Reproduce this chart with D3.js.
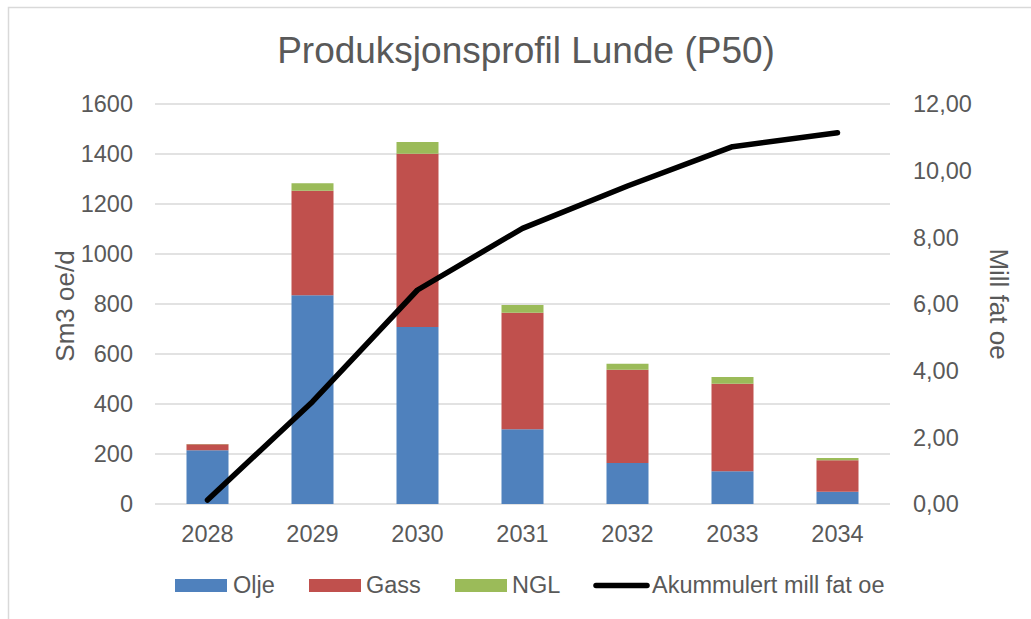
<!DOCTYPE html>
<html>
<head>
<meta charset="utf-8">
<script src="https://cdn.jsdelivr.net/npm/d3@7"></script>
<style>
html,body{margin:0;padding:0;background:#fff;}
svg{display:block;}
text{font-family:"Liberation Sans",Arial,sans-serif;fill:#595959;}
</style>
</head>
<body>
<svg id="chart" width="1031" height="619"></svg>
<script>
const years = ["2028","2029","2030","2031","2032","2033","2034"];
const olje = [215, 835, 708, 299, 164, 131, 49];
const gass = [24, 418, 693, 466, 373, 350, 126];
const ngl = [1, 30, 47, 31, 24, 27, 9];
const akkumulert = [0.12, 3.07, 6.42, 8.27, 9.54, 10.72, 11.14];
const leftTicks = [0, 200, 400, 600, 800, 1000, 1200, 1400, 1600];
const rightTicks = [0, 2, 4, 6, 8, 10, 12];
const seriesNames = ["Olje", "Gass", "NGL"];
const lineName = "Akummulert mill fat oe";
const colors = {Olje: "#4F81BD", Gass: "#C0504D", NGL: "#9BBB59"};

const svg = d3.select("#chart");
const pL = 155, pR = 890, pT = 104, pB = 504;

// border
svg.append("path").attr("d", "M8.5,619 L8.5,7.5 L1031,7.5")
  .attr("fill", "none").attr("stroke", "#D9D9D9").attr("stroke-width", 1.5);

const x = d3.scaleBand().domain(years).range([pL, pR]).padding(0);
const yL = d3.scaleLinear().domain([0, 1600]).range([pB, pT]);
const yR = d3.scaleLinear().domain([0, 12]).range([pB, pT]);

// gridlines
svg.append("g").selectAll("line").data(leftTicks).join("line")
  .attr("x1", pL).attr("x2", pR)
  .attr("y1", d => yL(d)).attr("y2", d => yL(d))
  .attr("stroke", "#D9D9D9").attr("stroke-width", 1.5);

// left tick labels
svg.append("g").selectAll("text").data(leftTicks).join("text")
  .attr("x", 133).attr("y", d => yL(d)).attr("dy", "0.36em")
  .attr("text-anchor", "end").attr("font-size", "23.5px")
  .text(d => d);

// right tick labels
const fmt = d => d3.format(".2f")(d).replace(".", ",");
svg.append("g").selectAll("text").data(rightTicks).join("text")
  .attr("x", 913).attr("y", d => yR(d)).attr("dy", "0.36em")
  .attr("text-anchor", "start").attr("font-size", "23.5px")
  .text(d => fmt(d));

// x labels
svg.append("g").selectAll("text").data(years).join("text")
  .attr("x", d => x(d) + x.bandwidth() / 2).attr("y", 542)
  .attr("text-anchor", "middle").attr("font-size", "23.5px")
  .text(d => d);

// stacked bars
const table = years.map((y, i) => ({year: y, Olje: olje[i], Gass: gass[i], NGL: ngl[i]}));
const stack = d3.stack().keys(seriesNames)(table);
const bw = x.bandwidth() * 0.4;
svg.append("g").selectAll("g").data(stack).join("g")
  .attr("fill", d => colors[d.key])
  .selectAll("rect").data(d => d).join("rect")
  .attr("x", d => x(d.data.year) + (x.bandwidth() - bw) / 2)
  .attr("width", bw)
  .attr("y", d => yL(d[1]))
  .attr("height", d => yL(d[0]) - yL(d[1]));

// line
const line = d3.line()
  .x((d, i) => x(years[i]) + x.bandwidth() / 2)
  .y(d => yR(d));
svg.append("path").datum(akkumulert).attr("d", line)
  .attr("fill", "none").attr("stroke", "#000").attr("stroke-width", 5.5)
  .attr("stroke-linecap", "round").attr("stroke-linejoin", "round");

// title
svg.append("text").attr("x", 526).attr("y", 63).attr("text-anchor", "middle")
  .attr("font-size", "37px").text("Produksjonsprofil Lunde (P50)");

// axis titles
svg.append("text").attr("transform", `translate(74,${(pT + pB) / 2 + 2}) rotate(-90)`)
  .attr("text-anchor", "middle").attr("font-size", "26px").text("Sm3 oe/d");
svg.append("text").attr("transform", `translate(990,${(pT + pB) / 2}) rotate(90)`)
  .attr("text-anchor", "middle").attr("font-size", "26px").text("Mill fat oe");

// legend
const legendItems = [
  {name: "Olje", sx: 175, tx: 233},
  {name: "Gass", sx: 309, tx: 366},
  {name: "NGL", sx: 455, tx: 512}
];
const lg = svg.append("g");
lg.selectAll("rect").data(legendItems).join("rect")
  .attr("x", d => d.sx).attr("y", 579).attr("width", 52).attr("height", 13)
  .attr("fill", d => colors[d.name]);
lg.selectAll("text.s").data(legendItems).join("text").attr("class", "s")
  .attr("x", d => d.tx).attr("y", 593).attr("font-size", "23.5px").text(d => d.name);
lg.append("line").attr("x1", 596).attr("x2", 647).attr("y1", 585.5).attr("y2", 585.5)
  .attr("stroke", "#000").attr("stroke-width", 5.5).attr("stroke-linecap", "round");
lg.append("text").attr("x", 652).attr("y", 593).attr("font-size", "23.5px").text(lineName);
</script>
</body>
</html>
